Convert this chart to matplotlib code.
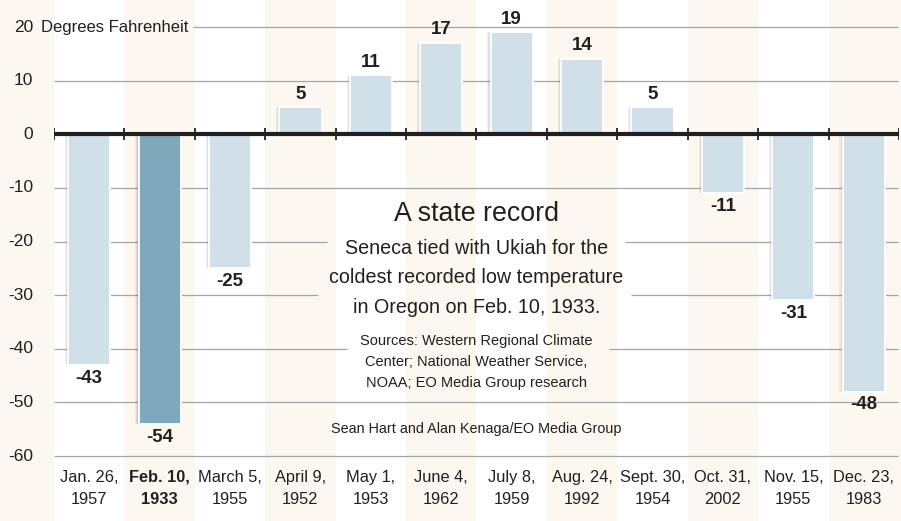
import matplotlib
matplotlib.use('Agg')
import matplotlib.pyplot as plt
import matplotlib.transforms as mtransforms

# data
dates = ['Jan. 26,', 'Feb. 10,', 'March 5,', 'April 9,', 'May 1,', 'June 4,',
         'July 8,', 'Aug. 24,', 'Sept. 30,', 'Oct. 31,', 'Nov. 15,', 'Dec. 23,']
years = ['1957', '1933', '1955', '1952', '1953', '1962',
         '1959', '1992', '1954', '2002', '1955', '1983']
temps = [-43, -54, -25, 5, 11, 17, 19, 14, 5, -11, -31, -48]
record_idx = 1
y_ticks = [20, 10, 0, -10, -20, -30, -40, -50, -60]

title = 'A state record'
subtitle = 'Seneca tied with Ukiah for the\ncoldest recorded low temperature\nin Oregon on Feb. 10, 1933.'
sources = 'Sources: Western Regional Climate\nCenter; National Weather Service,\nNOAA; EO Media Group research'
credit = 'Sean Hart and Alan Kenaga/EO Media Group'

plt.rcParams['font.family'] = ['Liberation Sans', 'DejaVu Sans']

ink = '#231f20'
cream = '#fcf7ef'
light = '#d0e0e9'
dark = '#7ea8bc'
grid_c = '#a5a5a5'

fig = plt.figure(figsize=(9.01, 5.21), dpi=100, facecolor=cream)
ax = fig.add_axes([54 / 901, 0, 845 / 901, 1])
ax.set_xlim(-0.5, 11.5)
ax.set_ylim(-72.12, 25.035)
ax.axis('off')

n = len(temps)
x = list(range(n))

# alternating column stripes
for i in x:
    ax.axvspan(i - 0.5, i + 0.5, color=cream if i % 2 else 'white', zorder=0, lw=0)

# gridlines, broken around the note in the middle
gaps = {20: [(-0.5, 1.47)], -20: [(3.38, 7.61)], -30: [(3.25, 7.70)], -40: [(3.66, 7.38)]}
for yv in y_ticks:
    if yv == 0:
        continue
    segs = [-0.5]
    for a, b in gaps.get(yv, []):
        segs += [a, b]
    segs.append(11.49)
    for k in range(0, len(segs), 2):
        if segs[k + 1] > segs[k]:
            ax.plot([segs[k], segs[k + 1]], [yv, yv], color=grid_c, lw=0.9, zorder=1,
                    solid_capstyle='butt')

# bars with soft left shadow
colors = [dark if i == record_idx else light for i in x]
for off, al in [(-0.045, 0.05), (-0.03, 0.07), (-0.015, 0.08)]:
    ax.bar([i + off for i in x], temps, width=0.6, color='black', alpha=al, zorder=2, lw=0)
ax.bar(x, temps, width=0.6, color=colors, edgecolor='white', lw=1.3, zorder=3)

# zero line with ticks at column boundaries
ax.axhline(0, color=ink, lw=3, zorder=4)
ax.vlines([i - 0.5 for i in range(n + 1)], -1.15, 1.15, color=ink, lw=1.3, zorder=4)

# value labels
for i, v in enumerate(temps):
    ax.annotate(str(v), (i, v), xytext=(0, 9.5 if v > 0 else -9.5), textcoords='offset points',
                ha='center', va='center', fontsize=13.5, fontweight='bold', color=ink, zorder=5)

# y tick labels
tr = mtransforms.blended_transform_factory(fig.transFigure, ax.transData)
for yv in y_ticks:
    ax.text(33 / 901, yv, str(yv), transform=tr, ha='right', va='center',
            fontsize=12.5, color=ink)
ax.text(41 / 901, 20, 'Degrees Fahrenheit', transform=tr, ha='left', va='center',
        fontsize=12, color=ink)

# x labels
for i in x:
    ax.text(i, -66.06, dates[i] + '\n' + years[i], ha='center', va='center',
            multialignment='center', fontsize=11.8, color=ink, linespacing=1.62,
            fontweight='bold' if i == record_idx else 'normal')

# note in the middle
ax.text(5.5, -14.87, title, ha='center', va='center', fontsize=19.3, color=ink, zorder=5)
ax.text(5.5, -26.8, subtitle, ha='center', va='center', multialignment='center',
        fontsize=14.2, color=ink, linespacing=1.68, zorder=5)
ax.text(5.5, -42.47, sources, ha='center', va='center', multialignment='center',
        fontsize=10.5, color=ink, linespacing=1.62, zorder=5)
ax.text(5.5, -54.97, credit, ha='center', va='center', fontsize=10.4, color=ink, zorder=5)

fig.savefig('out.png', dpi=100, facecolor=cream)
